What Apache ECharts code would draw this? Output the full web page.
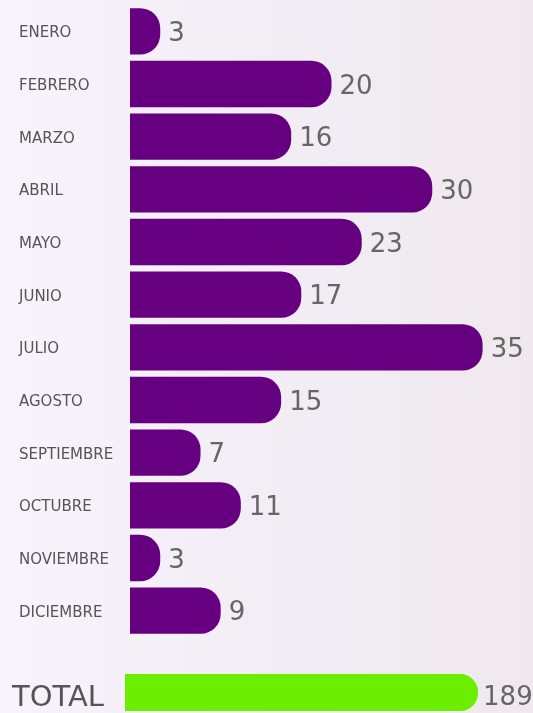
<!DOCTYPE html>
<html><head><meta charset="utf-8">
<script src="https://cdn.jsdelivr.net/npm/echarts@6/dist/echarts.min.js"></script>
<style>html,body{margin:0;padding:0;}#c{width:533px;height:713px;background:linear-gradient(90deg,#f8f3fc 0%,#f3edf6 45%,#efe9ee 100%);}</style>
</head><body><div id="c"></div>
<script>
var months = ['ENERO','FEBRERO','MARZO','ABRIL','MAYO','JUNIO','JULIO','AGOSTO','SEPTIEMBRE','OCTUBRE','NOVIEMBRE','DICIEMBRE'];
var values = [3,20,16,30,23,17,35,15,7,11,3,9];
var totalLabel = ['TOTAL'];
var totalValue = [189];

var chart = echarts.init(document.getElementById('c'));
var font = 'DejaVu Sans';
chart.setOption({
  animation:false,
  grid:[
    {left:130,right:0,top:5,height:632},
    {left:125,right:0,top:674,height:48}
  ],
  xAxis:[
    {gridIndex:0,type:'value',min:0,max:40,show:false},
    {gridIndex:1,type:'value',min:0,max:218.4,show:false}
  ],
  yAxis:[
    {gridIndex:0,type:'category',data:months,inverse:true,axisLine:{show:false},axisTick:{show:false},
     axisLabel:{align:'left',margin:111,color:'#555',fontSize:15,fontFamily:font,
       formatter:'{m|{value}}',rich:{m:{fontSize:15,fontFamily:font,color:'#555',padding:[4,0,0,0]}}}},
    {gridIndex:1,type:'category',data:totalLabel,axisLine:{show:false},axisTick:{show:false},
     axisLabel:{align:'left',margin:113,color:'#555',fontSize:29,fontFamily:font,
       formatter:'{t|{value}}',rich:{t:{fontSize:29,fontFamily:font,color:'#555',padding:[12,0,0,0]}}}}
  ],
  series:[
    {type:'bar',xAxisIndex:0,yAxisIndex:0,data:values,barCategoryGap:'12%',
     itemStyle:{color:'#660080',borderRadius:[0,20,20,0]},
     label:{show:true,position:'right',distance:8,offset:[0,3],color:'#666',fontSize:26,fontFamily:font}},
    {type:'bar',xAxisIndex:1,yAxisIndex:1,data:totalValue,barWidth:48,
     itemStyle:{color:'#6cee00',borderRadius:[0,18,18,0]},
     label:{show:true,position:'right',distance:5,offset:[0,6],color:'#666',fontSize:26,fontFamily:font}}
  ]
});
</script></body></html>
